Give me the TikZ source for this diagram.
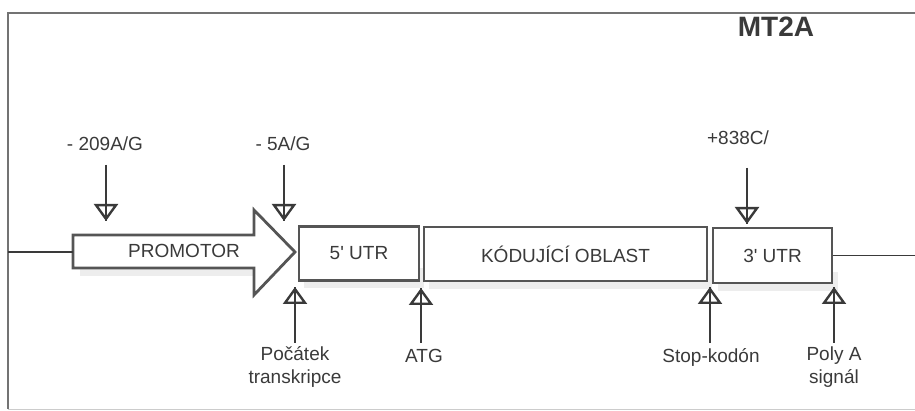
\documentclass[tikz,border=0pt]{standalone}
\usepackage{fontspec}
\setmainfont{Liberation Sans}
\usetikzlibrary{arrows.meta}
\definecolor{ink}{HTML}{3A3A3A}
\definecolor{boxline}{HTML}{555555}
\tikzset{
  lbl/.style={text=ink, font=\fontsize{19}{23}\selectfont, inner sep=0pt, align=center},
  genebox/.style={draw=boxline, line width=2.8pt, fill=white, inner sep=0pt, text=ink, font=\fontsize{19}{23}\selectfont},
  pinhead/.style={draw=ink, line width=1.8pt, -{Triangle[open,length=17pt,width=24pt,line width=2.4pt]}},
  pinshaft/.style={draw=ink, line width=1.8pt},
  shadowband/.style={fill=black!7, draw=none},
  frameline/.style={draw=black!55, line width=1.4pt}
}
\begin{document}
\begin{tikzpicture}[x=1pt,y=-1pt]
\useasboundingbox (0,0) rectangle (915,411);
% frame
\draw[frameline] (915,13) -- (8,13) -- (8,409);
\draw[draw=black!20, line width=0.8pt] (8,409) -- (915,409);
% title
\node[text=ink, font=\fontsize{28}{30}\selectfont\bfseries, inner sep=0pt] (title) at (776,27) {MT2A};
% faint scan shadows
\fill[shadowband] (80,262) rectangle (258,276);
\fill[shadowband] (304,268) rectangle (424,288);
\fill[shadowband] (429,270) rectangle (712,289);
\fill[shadowband] (718,272) rectangle (838,291);
% promoter arrow
\draw[genebox] (73,235) -- (254,235) -- (254,210) -- (295,252) -- (254,295) -- (254,268) -- (73,268) -- cycle;
\node[lbl] (promoter) at (184,251) {PROMOTOR};
\coordinate (promtail) at (73,252);
\coordinate (leftend) at (8,252);
% boxes
\node[genebox, minimum width=120pt, minimum height=54pt] (utr5) at (359,253.5) {5\textquotesingle{} UTR};
\node[genebox, minimum width=283pt, minimum height=54pt] (cds) at (565.5,254) {KÓDUJÍCÍ OBLAST};
\node[genebox, minimum width=119pt, minimum height=55pt] (utr3) at (772.5,255.5) {3\textquotesingle{} UTR};
\coordinate (rightend) at (915,255.5);
% baselines
\draw[pinshaft] (leftend) -- (promtail);
\draw[pinshaft] (utr3.east) -- (rightend);
% top labels and arrows
\node[lbl] (m209) at (105,143.5) {- 209A/G};
\node[lbl] (m5) at (283,143.5) {- 5A/G};
\node[lbl] (p838) at (738,137.5) {+838C/};
\coordinate (a1s) at (106,165); \coordinate (a1t) at (106,221);
\coordinate (a2s) at (284,165); \coordinate (a2t) at (284,221);
\coordinate (a3s) at (747,168); \coordinate (a3t) at (747,224);
\foreach \s/\t in {a1s/a1t,a2s/a2t,a3s/a3t}{
  \draw[pinhead] (\s) -- (\t);
  \draw[pinshaft] (\s) -- (\t);
}
% bottom labels and arrows
\node[lbl] (tss) at (295,367) {Počátek\\transkripce};
\node[lbl] (atg) at (424,356) {ATG};
\node[lbl] (stop) at (711,357.5) {Stop-kodón};
\node[lbl] (polya) at (834,367.5) {Poly A\\signál};
\coordinate (b1s) at (295,343); \coordinate (b1t) at (295,287);
\coordinate (b2s) at (421,343); \coordinate (b2t) at (421,288);
\coordinate (b3s) at (710,343); \coordinate (b3t) at (710,287);
\coordinate (b4s) at (834,343); \coordinate (b4t) at (834,287);
\foreach \s/\t in {b1s/b1t,b2s/b2t,b3s/b3t,b4s/b4t}{
  \draw[pinhead] (\s) -- (\t);
  \draw[pinshaft] (\s) -- (\t);
}
\end{tikzpicture}
\end{document}
